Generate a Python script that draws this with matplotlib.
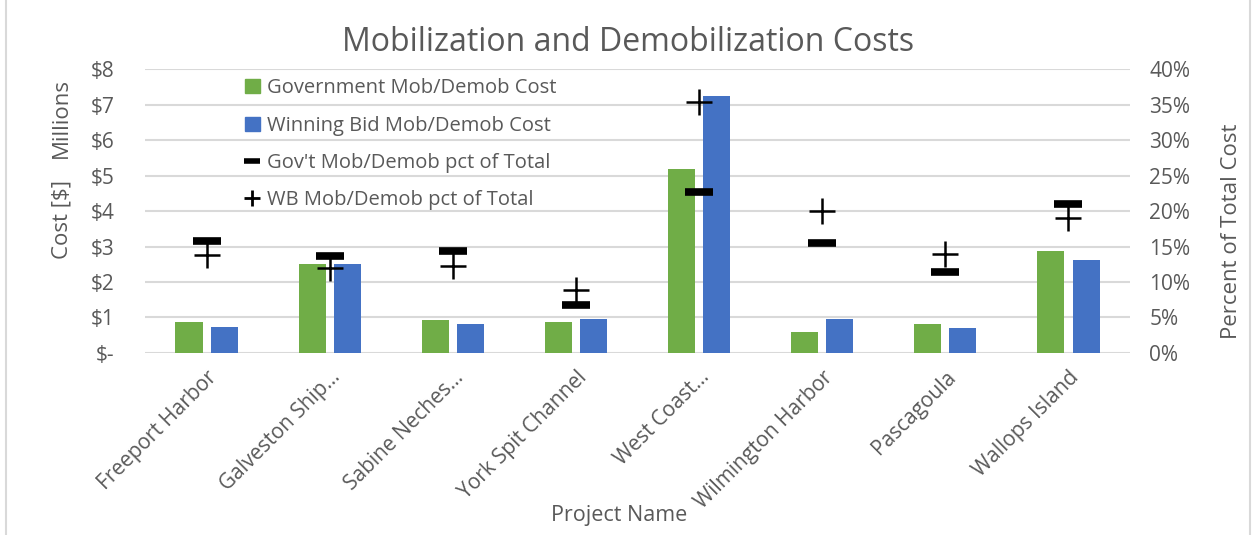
import matplotlib.pyplot as plt
from matplotlib.lines import Line2D
from matplotlib.patches import Patch, Rectangle
import numpy as np

plt.rcParams['font.family'] = ['Open Sans', 'DejaVu Sans']

projects = ["Freeport Harbor", "Galveston Ship...", "Sabine Neches...", "York Spit Channel",
            "West Coast...", "Wilmington Harbor", "Pascagoula", "Wallops Island"]
gov_cost = [0.88, 2.50, 0.92, 0.88, 5.18, 0.60, 0.83, 2.86]      # $ millions
wb_cost = [0.73, 2.50, 0.83, 0.97, 7.24, 0.96, 0.69, 2.63]       # $ millions
gov_pct = [15.8, 13.7, 14.4, 6.8, 22.7, 15.5, 11.4, 21.0]        # percent
wb_pct = [13.8, 12.0, 12.3, 8.9, 35.3, 20.0, 13.9, 19.0]         # percent

green = '#70ad47'
blue = '#4472c4'
gray = '#595959'

fig = plt.figure(figsize=(12.56, 5.35), dpi=100)
ax = fig.add_axes([0.1155, 0.3402, 0.7842, 0.5308])
ax2 = ax.twinx()

x = np.arange(len(projects))
ax.bar(x - 0.143, gov_cost, width=0.22, color=green, zorder=3)
ax.bar(x + 0.143, wb_cost, width=0.22, color=blue, zorder=3)

ax2.scatter(x, gov_pct, marker='_', s=400, linewidths=5.5, color='black', zorder=4)
ax2.scatter(x, wb_pct, marker='+', s=330, linewidths=1.8, color='black', zorder=4)

ax.set_xlim(-0.5, len(projects) - 0.5)
ax.set_ylim(0, 8)
ax2.set_ylim(0, 40)
ax.set_yticks(range(0, 9))
ax.set_yticklabels(['$-'] + ['$%d' % v for v in range(1, 9)])
ax2.set_yticks(range(0, 41, 5))
ax2.set_yticklabels(['%d%%' % v for v in range(0, 41, 5)])
ax.grid(axis='y', color='#d9d9d9', linewidth=1.5, zorder=0)
ax.set_axisbelow(True)

for a in (ax, ax2):
    for s in a.spines.values():
        s.set_visible(False)
    a.tick_params(length=0, labelsize=15, colors=gray)
ax.tick_params(axis='y', pad=22)
ax2.tick_params(axis='y', pad=14)

ax.set_xticks(x)
ax.set_xticklabels(projects, rotation=45, ha='right', rotation_mode='anchor', fontsize=15, color=gray)
ax.tick_params(axis='x', pad=10)

ax.set_xlabel('Project Name', fontsize=15.5, color=gray)
ax.xaxis.set_label_coords(0.481, -0.535)
ax2.set_ylabel('Percent of Total Cost', fontsize=16, color=gray)
ax2.yaxis.set_label_coords(1.092, 0.43)
fig.text(0.049, 0.59, 'Cost [$]', rotation=90, fontsize=16, color=gray, ha='center', va='center')
fig.text(0.049, 0.78, 'Millions', rotation=90, fontsize=16, color=gray, ha='center', va='center')
fig.text(0.5, 0.92, 'Mobilization and Demobilization Costs', fontsize=23, color=gray, ha='center', va='center')

handles = [Patch(color=green), Patch(color=blue),
           Line2D([], [], marker='_', linestyle='none', color='black', markersize=12, markeredgewidth=4),
           Line2D([], [], marker='+', linestyle='none', color='black', markersize=12, markeredgewidth=2)]
labels = ['Government Mob/Demob Cost', 'Winning Bid Mob/Demob Cost',
          "Gov't Mob/Demob pct of Total", 'WB Mob/Demob pct of Total']
leg = ax2.legend(handles, labels, loc='upper left', bbox_to_anchor=(0.093, 0.995), frameon=False,
                 fontsize=14.5, labelspacing=0.85, handlelength=0.75, handletextpad=0.35, borderaxespad=0)
for t in leg.get_texts():
    t.set_color(gray)

fig.patches.append(Rectangle((0.005, -0.01), 0.99, 1.02, transform=fig.transFigure,
                             fill=False, edgecolor='#d9d9d9', linewidth=1.5))

fig.savefig('out.png', dpi=100)
